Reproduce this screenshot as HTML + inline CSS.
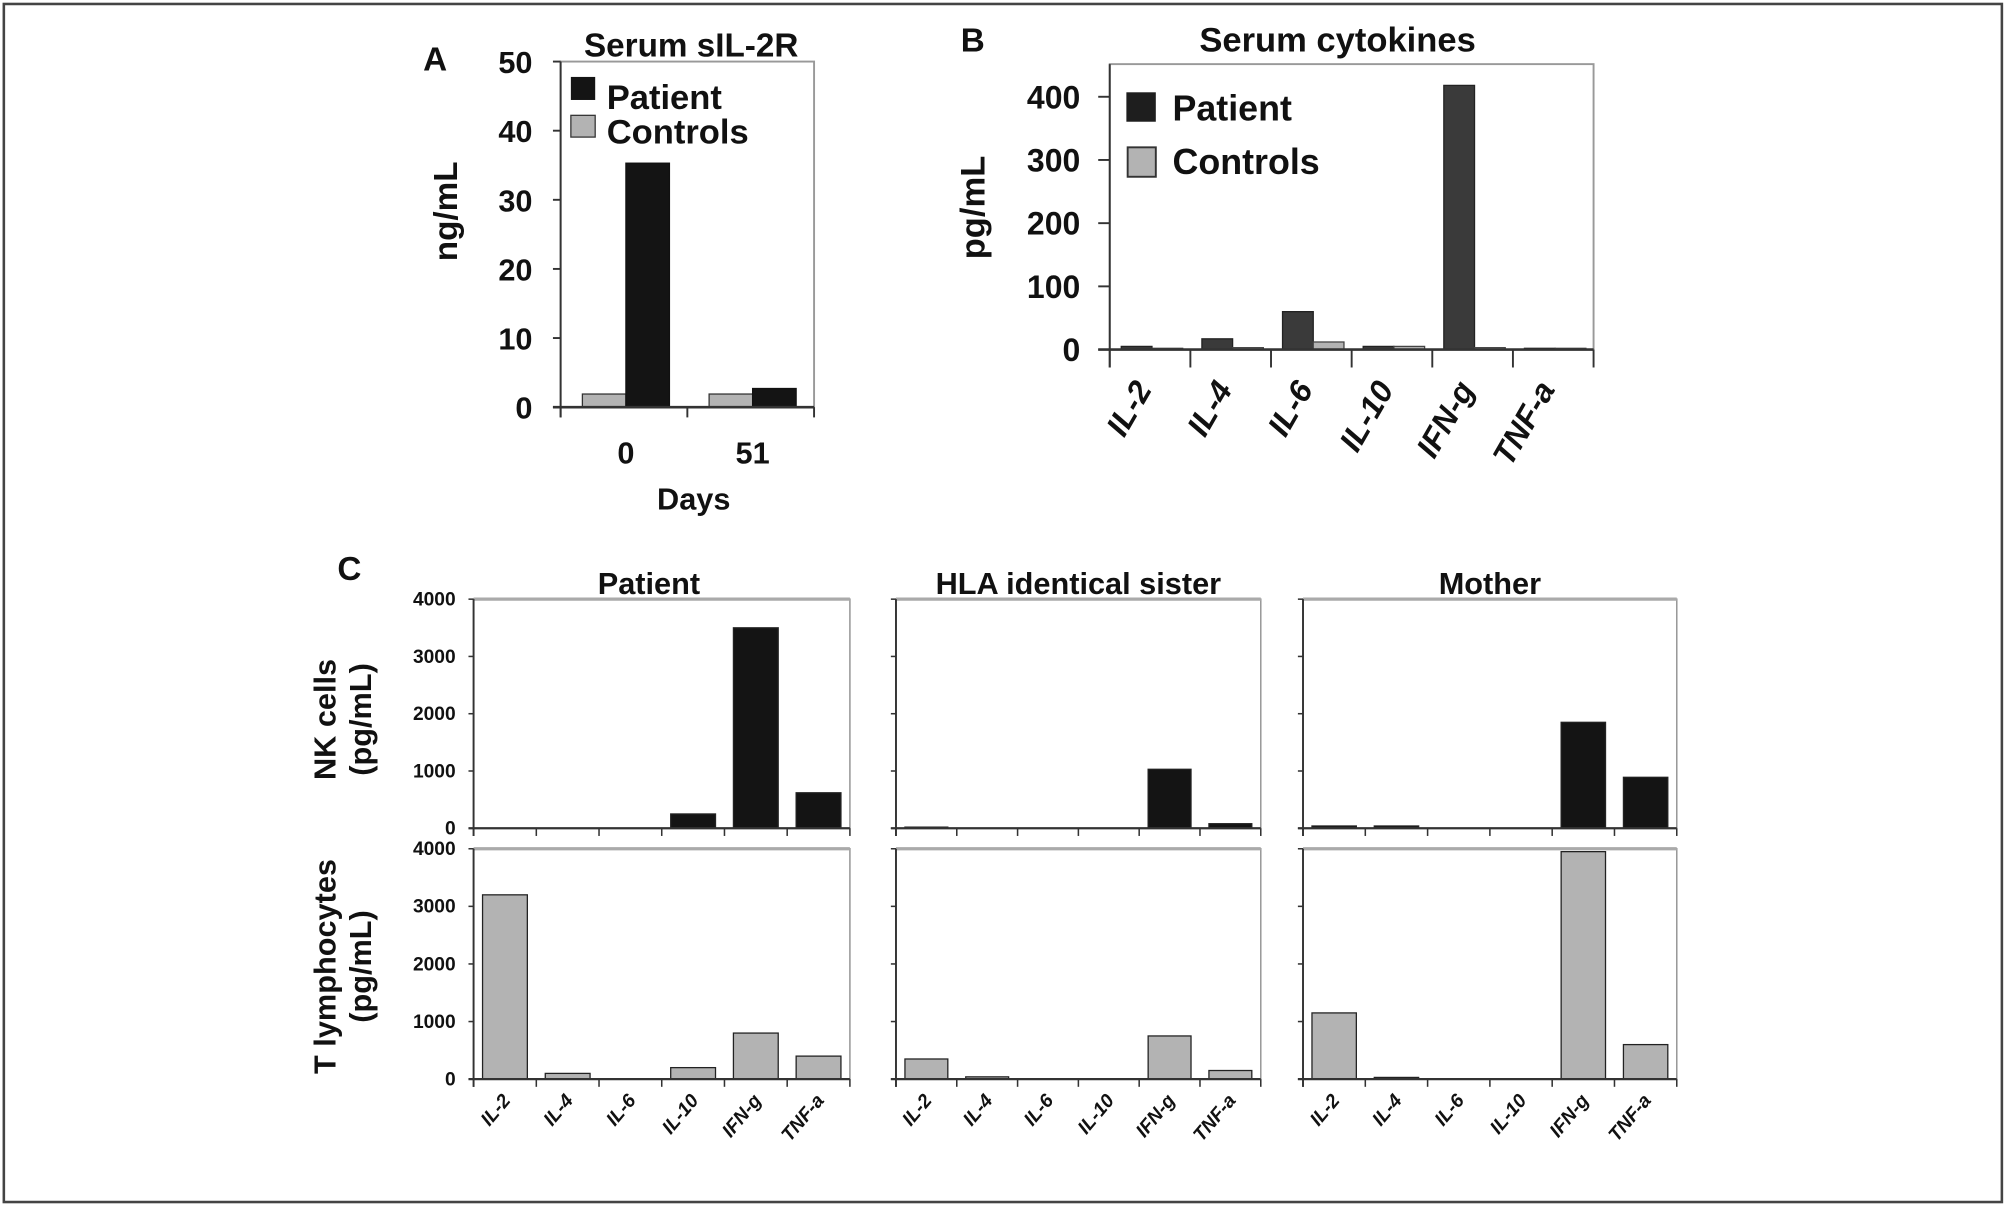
<!DOCTYPE html>
<html><head><meta charset="utf-8"><style>
html,body{margin:0;padding:0;background:#fff}
svg{display:block}
text{font-family:"Liberation Sans",Arial,sans-serif;font-weight:bold;fill:#111}
</style></head><body>
<svg id="fig" width="2007" height="1206" viewBox="0 0 1568 942" xmlns="http://www.w3.org/2000/svg">
<rect x="3" y="3" width="1561" height="936" fill="#fff" stroke="#444" stroke-width="2"/>
<g id="gA"></g>
<g id="gB"></g>
<g id="gC"></g>
</svg>
<script>
// Panel A data
const aDays = ["0", "51"];
const aPatient = [35.3, 2.7];
const aControls = [1.9, 1.9];
const aTicks = [0, 10, 20, 30, 40, 50];
// Panel B data
const bCats = ["IL-2", "IL-4", "IL-6", "IL-10", "IFN-g", "TNF-a"];
const bPatient = [5, 17, 60, 5, 418, 2];
const bControls = [2, 3, 12, 5, 3, 2];
const bTicks = [0, 100, 200, 300, 400];
// Panel C data
const cCats = ["IL-2", "IL-4", "IL-6", "IL-10", "IFN-g", "TNF-a"];
const cSubjects = ["Patient", "HLA identical sister", "Mother"];
const cNKPatient = [0, 0, 0, 250, 3500, 620];
const cNKSister = [20, 0, 0, 0, 1030, 80];
const cNKMother = [40, 40, 0, 0, 1850, 890];
const cTPatient = [3200, 100, 0, 200, 800, 400];
const cTSister = [350, 40, 0, 0, 750, 150];
const cTMother = [1150, 30, 0, 0, 3950, 600];
const cTicks = [0, 1000, 2000, 3000, 4000];

const NS = "http://www.w3.org/2000/svg";
function mk(parent, tag, attrs, txt) {
  const e = document.createElementNS(NS, tag);
  for (const k in attrs) e.setAttribute(k, attrs[k]);
  if (txt !== undefined) e.textContent = txt;
  parent.appendChild(e);
  return e;
}
function lin(d0, d1, r0, r1) { return v => r0 + (v - d0) * (r1 - r0) / (d1 - d0); }

// ---------- Panel A ----------
(function () {
  const g = document.getElementById('gA');
  const L = 438, R = 636, T = 48, B = 318;
  const y = lin(0, 50, B, T);
  const bw = (R - L) / aDays.length;
  let t;
  t = mk(g, 'text', {x: 340, y: 55, 'font-size': 26, 'text-anchor': 'middle'}, 'A');
   
  t = mk(g, 'text', {x: 540, y: 44, 'font-size': 26, 'text-anchor': 'middle'}, 'Serum sIL-2R');
   
  t = mk(g, 'text', {x: 0, y: 0, 'font-size': 26, 'text-anchor': 'middle', transform: 'translate(357,165) rotate(-90)'}, 'ng/mL');
   
  t = mk(g, 'rect', {x: L, y: T, width: R - L, height: B - T, fill: 'none', stroke: '#999', 'stroke-width': 1.5});
   
  aTicks.forEach(v => {
    const yy = y(v);
    let l = mk(g, 'line', {x1: L - 6, x2: L, y1: yy, y2: yy, stroke: '#333', 'stroke-width': 1.5});
     
    let tx = mk(g, 'text', {x: L - 22, y: yy + 9, 'font-size': 24, 'text-anchor': 'end'}, String(v));
     
  });
  aDays.forEach((d, i) => {
    const x0 = L + i * bw;
    const cx = x0 + 17, w = 34;
    let r = mk(g, 'rect', {x: cx, y: y(aControls[i]), width: w, height: B - y(aControls[i]), fill: '#b3b3b3', stroke: '#333', 'stroke-width': 1});
     
    r = mk(g, 'rect', {x: cx + w, y: y(aPatient[i]), width: w, height: B - y(aPatient[i]), fill: '#141414', stroke: '#111', 'stroke-width': 1});
     
    let tx = mk(g, 'text', {x: cx + w, y: 362, 'font-size': 24, 'text-anchor': 'middle'}, d);
     
  });
  for (let i = 0; i <= aDays.length; i++) {
    let l = mk(g, 'line', {x1: L + i * bw, x2: L + i * bw, y1: B, y2: B + 8, stroke: '#333', 'stroke-width': 1.5});
     
  }
  let l = mk(g, 'line', {x1: L - 6, x2: R, y1: B, y2: B, stroke: '#333', 'stroke-width': 2});
   
  l = mk(g, 'line', {x1: L, x2: L, y1: T, y2: B + 8, stroke: '#333', 'stroke-width': 1.5});
   
  t = mk(g, 'text', {x: 542, y: 398, 'font-size': 24, 'text-anchor': 'middle'}, 'Days');
   
  t = mk(g, 'rect', {x: 446, y: 60, width: 19, height: 18, fill: '#141414'});
   
  t = mk(g, 'text', {x: 474, y: 85, 'font-size': 27}, 'Patient');
   
  t = mk(g, 'rect', {x: 446, y: 90, width: 19, height: 17, fill: '#b3b3b3', stroke: '#333'});
   
  t = mk(g, 'text', {x: 474, y: 112, 'font-size': 27}, 'Controls');
   
})();

// ---------- Panel B ----------
(function () {
  const g = document.getElementById('gB');
  const L = 867, R = 1245, T = 50, B = 273;
  const y = lin(0, 400, B, 75.5);
  const cw = (R - L) / bCats.length;
  let t;
  t = mk(g, 'text', {x: 760, y: 40, 'font-size': 26, 'text-anchor': 'middle'}, 'B');
   
  t = mk(g, 'text', {x: 1045, y: 40, 'font-size': 27, 'text-anchor': 'middle'}, 'Serum cytokines');
   
  t = mk(g, 'text', {x: 0, y: 0, 'font-size': 27, 'text-anchor': 'middle', transform: 'translate(769,162) rotate(-90)'}, 'pg/mL');
   
  t = mk(g, 'rect', {x: L, y: T, width: R - L, height: B - T, fill: 'none', stroke: '#999', 'stroke-width': 1.5});
   
  bTicks.forEach(v => {
    const yy = y(v);
    let l = mk(g, 'line', {x1: L - 9, x2: L, y1: yy, y2: yy, stroke: '#333', 'stroke-width': 1.5});
     
    let tx = mk(g, 'text', {x: 844, y: yy + 9, 'font-size': 25, 'text-anchor': 'end'}, String(v));
     
  });
  bCats.forEach((c, i) => {
    const x0 = L + i * cw;
    const w = 24, px = x0 + 9;
    let r = mk(g, 'rect', {x: px, y: y(bPatient[i]), width: w, height: B - y(bPatient[i]), fill: '#3a3a3a', stroke: '#222', 'stroke-width': 1});
     
    r = mk(g, 'rect', {x: px + w, y: y(bControls[i]), width: w, height: B - y(bControls[i]), fill: '#b3b3b3', stroke: '#444', 'stroke-width': 1});
     
    const lx = x0 + cw / 2 + 2;
    let tx = mk(g, 'text', {x: 0, y: 0, 'font-size': 25, 'font-style': 'italic', 'text-anchor': 'end', transform: 'translate(' + lx + ',304) rotate(-60)'}, c);
     
  });
  for (let i = 0; i <= bCats.length; i++) {
    let l = mk(g, 'line', {x1: L + i * cw, x2: L + i * cw, y1: B, y2: B + 14, stroke: '#333', 'stroke-width': 1.5});
     
  }
  let l = mk(g, 'line', {x1: L - 9, x2: R, y1: B, y2: B, stroke: '#333', 'stroke-width': 2});
   
  l = mk(g, 'line', {x1: L, x2: L, y1: T, y2: B + 14, stroke: '#333', 'stroke-width': 1.5});
   
  t = mk(g, 'rect', {x: 880, y: 72, width: 23, height: 23, fill: '#1e1e1e'});
   
  t = mk(g, 'text', {x: 916, y: 94, 'font-size': 28}, 'Patient');
   
  t = mk(g, 'rect', {x: 881, y: 115, width: 22, height: 23, fill: '#b3b3b3', stroke: '#333', 'stroke-width': 1.5});
   
  t = mk(g, 'text', {x: 916, y: 136, 'font-size': 28}, 'Controls');
   
})();

// ---------- Panel C ----------
(function () {
  const g = document.getElementById('gC');
  let t;
  t = mk(g, 'text', {x: 273, y: 453, 'font-size': 26, 'text-anchor': 'middle'}, 'C');
   
  const cols = [{L: 370, R: 664}, {L: 700, R: 985}, {L: 1018, R: 1310}];
  const rows = [{T: 468, B: 647, data: [cNKPatient, cNKSister, cNKMother], fill: '#141414', name: 'nk'},
                {T: 663, B: 843, data: [cTPatient, cTSister, cTMother], fill: '#b3b3b3', name: 't'}];
  cSubjects.forEach((s, ci) => {
    const c = cols[ci];
    let tx = mk(g, 'text', {x: (c.L + c.R) / 2 + (ci === 0 ? -10 : 0), y: 464, 'font-size': 24, 'text-anchor': 'middle'}, s);
     
  });
  rows.forEach((rw, ri) => {
    const y = lin(0, 4000, rw.B, rw.T);
    cols.forEach((c, ci) => {
      const cw = (c.R - c.L) / cCats.length;
      let fr = mk(g, 'rect', {x: c.L, y: rw.T, width: c.R - c.L, height: rw.B - rw.T, fill: 'none', stroke: '#999', 'stroke-width': 1.2});
       
      let tl = mk(g, 'line', {x1: c.L, x2: c.R, y1: rw.T, y2: rw.T, stroke: '#aaa', 'stroke-width': 2.5});
       
      cTicks.forEach(v => {
        const yy = y(v);
        let l = mk(g, 'line', {x1: c.L - 4, x2: c.L, y1: yy, y2: yy, stroke: '#333', 'stroke-width': 1.2});
         
        if (ci === 0) {
          let tx = mk(g, 'text', {x: c.L - 14, y: yy + 5, 'font-size': 15, 'text-anchor': 'end'}, String(v));
           
        }
      });
      const vals = rw.data[ci];
      cCats.forEach((cat, k) => {
        const v = vals[k];
        if (v > 0) {
          let r = mk(g, 'rect', {x: c.L + k * cw + 7, y: y(v), width: cw - 14, height: rw.B - y(v), fill: rw.fill, stroke: '#222', 'stroke-width': 1});
           
        }
        if (ri === 1) {
          const lx = c.L + k * cw + cw / 2 + 5;
          let tx = mk(g, 'text', {x: 0, y: 0, 'font-size': 15, 'font-style': 'italic', 'text-anchor': 'end', transform: 'translate(' + lx + ',860) rotate(-50)'}, cat);
           
        }
      });
      for (let k = 0; k <= cCats.length; k++) {
        let l = mk(g, 'line', {x1: c.L + k * cw, x2: c.L + k * cw, y1: rw.B, y2: rw.B + 6, stroke: '#333', 'stroke-width': 1.2});
         
      }
      let l = mk(g, 'line', {x1: c.L - 4, x2: c.R, y1: rw.B, y2: rw.B, stroke: '#333', 'stroke-width': 1.8});
       
      l = mk(g, 'line', {x1: c.L, x2: c.L, y1: rw.T, y2: rw.B + 6, stroke: '#333', 'stroke-width': 1.5});
       
    });
  });
  t = mk(g, 'text', {x: 0, y: 0, 'font-size': 24, 'text-anchor': 'middle', transform: 'translate(262,562) rotate(-90)'}, 'NK cells');
   
  t = mk(g, 'text', {x: 0, y: 0, 'font-size': 24, 'text-anchor': 'middle', transform: 'translate(290,562) rotate(-90)'}, '(pg/mL)');
   
  t = mk(g, 'text', {x: 0, y: 0, 'font-size': 24, 'text-anchor': 'middle', transform: 'translate(262,755) rotate(-90)'}, 'T lymphocytes');
   
  t = mk(g, 'text', {x: 0, y: 0, 'font-size': 24, 'text-anchor': 'middle', transform: 'translate(290,755) rotate(-90)'}, '(pg/mL)');
   
})();
</script>
</body></html>
